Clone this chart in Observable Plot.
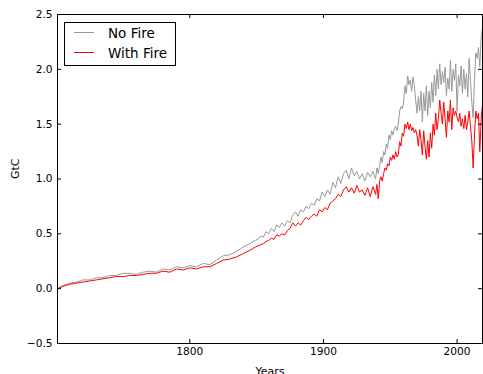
<!DOCTYPE html>
<html><head><meta charset="utf-8">
<script src="https://cdn.jsdelivr.net/npm/d3@7"></script>
<script src="https://cdn.jsdelivr.net/npm/@observablehq/plot@0.6"></script>
<style>
html,body{margin:0;padding:0;background:#fff}
#chart{width:483px;height:374px;overflow:hidden}
</style>
</head><body><div id="chart"></div>
<script>
const years = [
1701,1705,1710,1715,1720,1725,1730,1735,1740,1745,1750,1755,1760,1765,1770,1775,1780,1785,1790,1795,1800,1805,1810,1815,1820,1825,1830,1835,1840,1845,1849,
1851,1853,1855,1857,1859,1861,1863,1865,1867,1869,1871,1873,1875,1877,1879,1881,1883,1885,1887,1889,1891,1893,1895,1897,1899,1901,1903,1905,1907,1909,1911,1913,1915,1917,1919,1921,1923,1925,1927,1929,1931,1933,1935,1937,1939,
1940,1941,1942,1943,1944,1945,1946,1947,1948,1949,1950,1951,1952,1953,1954,1955,1956,1957,1958,1959,
1960,1961,1962,1963,1964,1965,1966,1967,1968,1969,1970,1971,1972,1973,1974,1975,1976,1977,1978,1979,
1980,1981,1982,1983,1984,1985,1986,1987,1988,1989,1990,1991,1992,1993,1994,1995,1996,1997,1998,1999,
2000,2001,2002,2003,2004,2005,2006,2007,2008,2009,2010,2011,2012,2013,2014,2015,2016,2017,2018,2019];

const noFire = [
0.00,0.03,0.05,0.06,0.08,0.08,0.10,0.10,0.12,0.12,0.14,0.14,0.13,0.15,0.16,0.15,0.18,0.17,0.20,0.19,0.21,0.20,0.23,0.22,0.26,0.30,0.31,0.34,0.38,0.41,0.44,
0.45,0.48,0.47,0.52,0.50,0.55,0.52,0.58,0.56,0.60,0.57,0.62,0.60,0.67,0.70,0.66,0.72,0.70,0.75,0.73,0.78,0.76,0.82,0.80,0.88,0.84,0.90,0.86,0.97,0.92,1.02,0.96,1.05,1.08,1.00,1.10,1.03,1.07,1.00,1.05,0.98,1.06,1.02,1.07,1.00,
1.10,1.05,1.12,1.20,1.15,1.25,1.22,1.32,1.28,1.40,1.36,1.44,1.40,1.46,1.48,1.44,1.50,1.62,1.66,1.64,
1.70,1.85,1.78,1.94,1.86,1.90,1.80,1.93,1.85,1.72,1.60,1.75,1.62,1.80,1.52,1.78,1.62,1.85,1.58,1.80,
1.65,1.88,1.70,1.95,1.76,2.00,1.82,2.05,1.86,1.98,1.88,2.02,1.76,1.92,1.82,2.08,1.80,2.00,1.90,2.05,
1.62,1.95,1.85,2.03,1.78,2.00,1.82,1.96,1.75,2.10,1.90,1.70,1.56,1.90,2.15,2.10,2.20,2.02,2.30,2.38];

const withFire = [
0.00,0.02,0.04,0.05,0.06,0.07,0.08,0.09,0.10,0.11,0.11,0.12,0.12,0.13,0.14,0.14,0.16,0.15,0.18,0.17,0.19,0.18,0.20,0.20,0.23,0.26,0.27,0.29,0.32,0.35,0.38,
0.39,0.40,0.41,0.43,0.44,0.46,0.45,0.49,0.48,0.50,0.49,0.53,0.55,0.60,0.57,0.60,0.58,0.62,0.65,0.63,0.66,0.68,0.66,0.72,0.70,0.74,0.72,0.78,0.80,0.82,0.86,0.84,0.90,0.93,0.88,0.92,0.87,0.94,0.88,0.90,0.85,0.92,0.84,0.93,0.86,
0.95,0.82,0.98,1.02,0.98,1.05,1.10,1.08,1.14,1.12,1.20,1.17,1.22,1.18,1.25,1.20,1.22,1.34,1.30,1.42,
1.39,1.50,1.46,1.52,1.45,1.50,1.44,1.47,1.42,1.45,1.40,1.30,1.45,1.36,1.22,1.44,1.30,1.18,1.35,1.20,
1.42,1.28,1.50,1.40,1.60,1.45,1.55,1.72,1.60,1.50,1.70,1.55,1.38,1.62,1.52,1.72,1.45,1.65,1.58,1.62,
1.56,1.52,1.60,1.48,1.55,1.46,1.58,1.45,1.52,1.62,1.48,1.35,1.10,1.40,1.62,1.55,1.60,1.25,1.55,1.68];

const seriesNames = ["No Fire", "With Fire"];
const seriesColors = ["#999999", "#ff0000"];
const xTicks = [1800, 1900, 2000];
const yTicks = [-0.5, 0.0, 0.5, 1.0, 1.5, 2.0, 2.5];
const xLabel = "Years";
const yLabel = "GtC";

const rows = [];
years.forEach((yr, i) => {
  rows.push({year: yr, value: noFire[i], series: seriesNames[0]});
  rows.push({year: yr, value: withFire[i], series: seriesNames[1]});
});

const W = 483, H = 374, ML = 57, MR = 1, MT = 14, MB = 31;
const innerW = W - ML - MR, innerH = H - MT - MB;
const fmt = d => (d < 0 ? "\u2212" : "") + Math.abs(d).toFixed(1);

function legendMark() {
  const g = d3.create("svg:g");
  g.append("rect").attr("x", 64.5).attr("y", 22.5).attr("width", 111).attr("height", 43)
    .attr("fill", "white").attr("stroke", "black").attr("stroke-width", 1);
  seriesNames.forEach((n, i) => {
    const y = 32.5 + i * 20;
    g.append("line").attr("x1", 74).attr("x2", 94).attr("y1", y).attr("y2", y)
      .attr("stroke", seriesColors[i]).attr("stroke-width", 1);
    g.append("text").attr("x", 108).attr("y", y + 5).text(n)
      .attr("text-anchor", "start")
      .style("text-anchor", "start")
      .style("font-size", "13.5px").attr("fill", "black").style("font-family", "DejaVu Sans");
  });
  return g.node();
}

const chart = Plot.plot({
  width: W, height: H,
  marginLeft: ML, marginRight: MR, marginTop: MT, marginBottom: MB,
  style: {fontFamily: "DejaVu Sans", fontSize: "10.6px", color: "black", background: "white"},
  x: {domain: [1701, 2019]},
  y: {domain: [-0.5, 2.5]},
  marks: [
    Plot.line(rows.filter(d => d.series === seriesNames[0]), {x: "year", y: "value", stroke: seriesColors[0], strokeWidth: 1}),
    Plot.line(rows.filter(d => d.series === seriesNames[1]), {x: "year", y: "value", stroke: seriesColors[1], strokeWidth: 1}),
    Plot.frame({stroke: "black", strokeWidth: 1}),
    Plot.tickX(xTicks, {x: d => d, insetTop: innerH - 4, stroke: "black"}),
    Plot.tickX(xTicks, {x: d => d, insetBottom: innerH - 4, stroke: "black"}),
    Plot.tickY(yTicks, {y: d => d, insetRight: innerW - 4, stroke: "black"}),
    Plot.tickY(yTicks, {y: d => d, insetLeft: innerW - 4, stroke: "black"}),
    Plot.axisX({ticks: xTicks, tickSize: 0, tickPadding: 3.5, tickFormat: d => String(d), label: null, fill: "black"}),
    Plot.axisY({ticks: yTicks, tickSize: 0, tickPadding: 5, tickFormat: fmt, label: null, fill: "black"}),
    Plot.text([xLabel], {frameAnchor: "bottom", text: d => d, lineAnchor: "bottom", dy: 31.5, fontSize: 11, fill: "black"}),
    Plot.text([yLabel], {frameAnchor: "left", text: d => d, rotate: -90, dx: -42, fontSize: 11, fill: "black"}),
    legendMark
  ]
});
document.getElementById("chart").append(chart);
</script>
</body></html>
